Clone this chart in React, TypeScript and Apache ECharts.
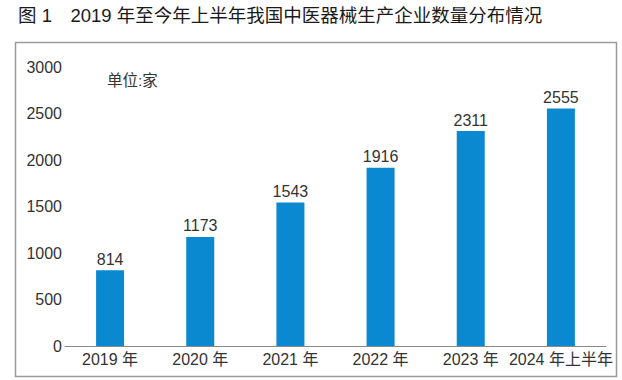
import React, { useEffect, useRef } from "react";
import * as echarts from "echarts";

const categories = ["2019 年", "2020 年", "2021 年", "2022 年", "2023 年", "2024 年上半年"];
const values = [814, 1173, 1543, 1916, 2311, 2555];
const titleText = "图 1　2019 年至今年上半年我国中医器械生产企业数量分布情况";
const unitText = "单位:家";

export default function App() {
  const ref = useRef<HTMLDivElement>(null);
  useEffect(() => {
    if (!ref.current) return;
    const chart = echarts.init(ref.current, null, { renderer: "svg" });
    const font = "'Liberation Sans', 'Noto Sans CJK SC', sans-serif";
    chart.setOption({
      animation: false,
      backgroundColor: "#ffffff",
      textStyle: { fontFamily: font },
      graphic: [
        {
          type: "rect",
          shape: { x: 15.5, y: 42.5, width: 601, height: 334 },
          style: { fill: "none", stroke: "#9a9a9a", lineWidth: 1.5 },
        },
        {
          type: "text",
          left: 18,
          top: 6,
          style: { text: titleText, fontSize: 18.5, fill: "#1a1a1a", fontFamily: font, fontWeight: "normal" },
        },
        {
          type: "text",
          left: 107,
          top: 73,
          style: { text: unitText, fontSize: 15.5, fill: "#333", fontFamily: font },
        },
      ],
      grid: { left: 65, right: 16, top: 67, bottom: 34, containLabel: false },
      xAxis: {
        type: "category",
        data: categories,
        axisLine: { lineStyle: { color: "#8a8a8a", width: 1 } },
        axisTick: { show: false },
        axisLabel: { color: "#333", fontSize: 16, margin: 5, interval: 0, fontFamily: font },
      },
      yAxis: {
        type: "value",
        min: 0,
        max: 3000,
        interval: 500,
        axisLine: { show: false },
        axisTick: { show: false },
        splitLine: { show: false },
        axisLabel: { color: "#333", fontSize: 16, margin: 3, fontFamily: font, formatter: (v: number) => String(v) },
      },
      series: [
        {
          type: "bar",
          data: values,
          barWidth: 28,
          itemStyle: { color: "#0a88d0" },
          label: { show: true, position: "top", color: "#333", fontSize: 16, distance: 3, fontFamily: font },
        },
      ],
    });
    return () => chart.dispose();
  }, []);
  return <div ref={ref} style={{ position: "fixed", left: 0, top: 0, width: 622, height: 380 }} />;
}
